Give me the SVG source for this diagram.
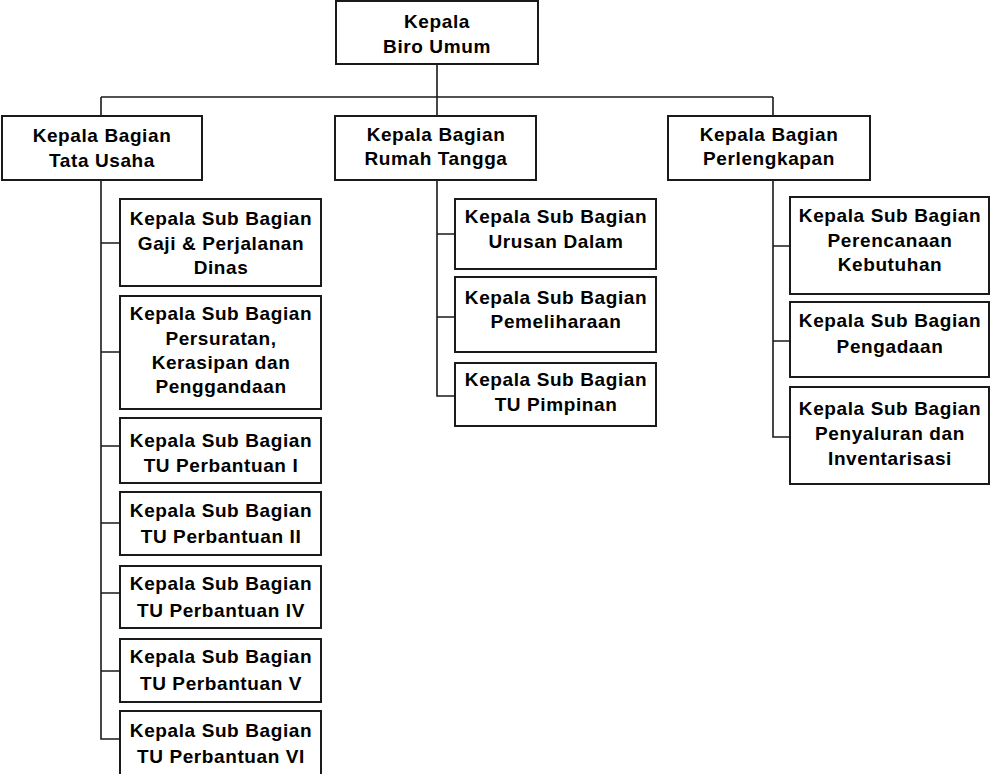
<svg xmlns="http://www.w3.org/2000/svg" width="990" height="774" viewBox="0 0 990 774">
<style>
.box{fill:#fff;stroke:#1a1a1a;stroke-width:2}
.ln{fill:none;stroke:#1a1a1a;stroke-width:1.6}
text{font-family:"Liberation Sans",Arial,sans-serif;font-weight:bold;font-size:19px;letter-spacing:0.6px;fill:#000;text-anchor:middle}
</style>
<rect width="990" height="774" fill="#fff"/>
<g id="connectors">
<path class="ln" d="M437 64V115M101 97H773M101 97V115M773 97V115"/>
<path class="ln" d="M101 180V739H120M101 243H120M101 352H120M101 446H120M101 523H120M101 593H120M101 671H120"/>
<path class="ln" d="M437 180V396H455M437 234H455M437 317H455"/>
<path class="ln" d="M773 180V437H790M773 246H790M773 341H790"/>
</g>
<g id="kepala-biro"><rect class="box" x="336" y="1" width="202" height="63"/><text x="437" y="28">Kepala</text><text x="437" y="53">Biro Umum</text></g>
<g id="tata-usaha"><rect class="box" x="2" y="116" width="200" height="64"/><text x="102" y="142">Kepala Bagian</text><text x="102" y="167">Tata Usaha</text></g>
<g id="rumah-tangga"><rect class="box" x="335" y="116" width="201" height="64"/><text x="436" y="141">Kepala Bagian</text><text x="436" y="165">Rumah Tangga</text></g>
<g id="perlengkapan"><rect class="box" x="668" y="116" width="202" height="64"/><text x="769" y="141">Kepala Bagian</text><text x="769" y="165">Perlengkapan</text></g>
<g id="gaji"><rect class="box" x="120" y="199" width="201" height="87"/><text x="221" y="225">Kepala Sub Bagian</text><text x="221" y="250">Gaji &amp; Perjalanan</text><text x="221" y="274">Dinas</text></g>
<g id="persuratan"><rect class="box" x="120" y="296" width="201" height="113"/><text x="221" y="320">Kepala Sub Bagian</text><text x="221" y="345">Persuratan,</text><text x="221" y="369">Kerasipan dan</text><text x="221" y="393">Penggandaan</text></g>
<g id="tu1"><rect class="box" x="120" y="418" width="201" height="65"/><text x="221" y="447">Kepala Sub Bagian</text><text x="221" y="472">TU Perbantuan I</text></g>
<g id="tu2"><rect class="box" x="120" y="492" width="201" height="63"/><text x="221" y="517">Kepala Sub Bagian</text><text x="221" y="543">TU Perbantuan II</text></g>
<g id="tu4"><rect class="box" x="120" y="566" width="201" height="62"/><text x="221" y="590">Kepala Sub Bagian</text><text x="221" y="617">TU Perbantuan IV</text></g>
<g id="tu5"><rect class="box" x="120" y="639" width="201" height="63"/><text x="221" y="663">Kepala Sub Bagian</text><text x="221" y="690">TU Perbantuan V</text></g>
<g id="tu6"><rect class="box" x="120" y="711" width="201" height="80"/><text x="221" y="737">Kepala Sub Bagian</text><text x="221" y="763">TU Perbantuan VI</text></g>
<g id="urusan-dalam"><rect class="box" x="455" y="199" width="201" height="70"/><text x="556" y="223">Kepala Sub Bagian</text><text x="556" y="248">Urusan Dalam</text></g>
<g id="pemeliharaan"><rect class="box" x="455" y="277" width="201" height="75"/><text x="556" y="304">Kepala Sub Bagian</text><text x="556" y="328">Pemeliharaan</text></g>
<g id="tu-pimpinan"><rect class="box" x="455" y="363" width="201" height="63"/><text x="556" y="386">Kepala Sub Bagian</text><text x="556" y="411">TU Pimpinan</text></g>
<g id="perencanaan"><rect class="box" x="790" y="197" width="199" height="97"/><text x="890" y="222">Kepala Sub Bagian</text><text x="890" y="247">Perencanaan</text><text x="890" y="271">Kebutuhan</text></g>
<g id="pengadaan"><rect class="box" x="790" y="302" width="199" height="75"/><text x="890" y="327">Kepala Sub Bagian</text><text x="890" y="353">Pengadaan</text></g>
<g id="penyaluran"><rect class="box" x="790" y="387" width="199" height="97"/><text x="890" y="415">Kepala Sub Bagian</text><text x="890" y="440">Penyaluran dan</text><text x="890" y="465">Inventarisasi</text></g>
</svg>
